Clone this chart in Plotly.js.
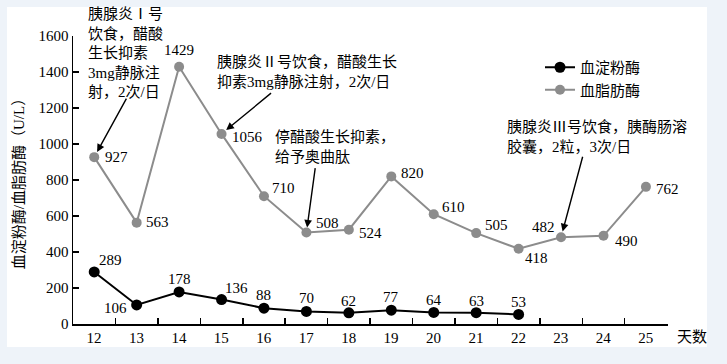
<!DOCTYPE html>
<html><head><meta charset="utf-8">
<script src="https://cdn.plot.ly/plotly-3.0.1.min.js"></script>
<style>
html,body{margin:0;padding:0;background:#eef3f9;}
#wrap{position:relative;width:727px;height:364px;}
#panel{position:absolute;left:7px;top:7px;width:700px;height:340px;background:#ffffff;}
#chart{position:absolute;left:0;top:0;width:727px;height:364px;}
</style>
</head><body>
<div id="wrap"><div id="panel"></div><div id="chart"></div></div>
<script>
const days = [12,13,14,15,16,17,18,19,20,21,22,23,24,25];
const amylaseDays = [12,13,14,15,16,17,18,19,20,21,22];
const amylase = [289,106,178,136,88,70,62,77,64,63,53];
const lipase = [927,563,1429,1056,710,508,524,820,610,505,418,482,490,762];
const seriesNames = ['血淀粉酶','血脂肪酶'];
const yTicks = [0,200,400,600,800,1000,1200,1400,1600];
const xTitle = '天数';
const yTitle = '血淀粉酶/血脂肪酶（U/L）';
const notes = [
  '胰腺炎Ⅰ号<br>饮食，醋酸<br>生长抑素<br>3mg静脉注<br>射，2次/日',
  '胰腺炎Ⅱ号饮食，醋酸生长<br>抑素3mg静脉注射，2次/日',
  '停醋酸生长抑素，<br>给予奥曲肽',
  '胰腺炎Ⅲ号饮食，胰酶肠溶<br>胶囊，2粒，3次/日'
];
const noteDay = [12,15,17,23];

// label offsets (styling)
const lipOff = [[9,0,'left'],[7,1,'left'],[0,17,'center'],[8,-3,'left'],[6,8,'left'],[8,10,'left'],[8,-3,'left'],[8,3,'left'],[6,7,'left'],[7,8,'left'],[4,-9,'left'],[-4,10,'right'],[10,-5,'left'],[8,-2,'left']];
const amyOff = [[3,12,'left'],[-8,-3,'right'],[0,13,'center'],[1,12,'left'],[0,13,'center'],[0,13,'center'],[0,12,'center'],[0,13,'center'],[0,12,'center'],[0,12,'center'],[0,12,'center']];
const notePos = [[86,4],[215,52],[273,127],[505,117]];
const arrowOff = [[33,-60,6],[51,-42,6],[9,-66,5],[22,-82,6]];

const FONT = 'Liberation Serif, "Noto Sans CJK SC", serif';
const L=73, R=59, T=36, B=40, W=727, H=364;
const pw = W-L-R, ph = H-T-B;
const px2x = p => (p-L)/pw;
const py2y = p => (H-B-p)/ph;

// ticks on day boundaries, labels shifted half a day to the day centres
const halfTicks = [];
for (let d=days[0]-0.5; d<=days[days.length-1]+0.5; d+=1) halfTicks.push(d);
const halfText = halfTicks.map((t,i)=> i<days.length ? String(days[i]) : '');
const xRange = [days[0]-0.5, days[days.length-1]+0.52];
const dayPx = pw/(xRange[1]-xRange[0]);

const traces = [
  {x: amylaseDays, y: amylase, name: seriesNames[0], mode:'lines+markers',
   line:{color:'#000', width:2}, marker:{color:'#000', size:11}},
  {x: days, y: lipase, name: seriesNames[1], mode:'lines+markers',
   line:{color:'#8c8c8c', width:2}, marker:{color:'#8c8c8c', size:10}}
];

const ann = [];
lipase.forEach((v,i)=>ann.push({x:days[i], y:v, text:String(v), showarrow:false,
  xanchor:lipOff[i][2], yanchor:'middle', xshift:lipOff[i][0], yshift:lipOff[i][1], font:{family:FONT,size:15,color:'#000'}}));
amylase.forEach((v,i)=>ann.push({x:amylaseDays[i], y:v, text:String(v), showarrow:false,
  xanchor:amyOff[i][2], yanchor:'middle', xshift:amyOff[i][0], yshift:amyOff[i][1], font:{family:FONT,size:15,color:'#000'}}));
notes.forEach((t,i)=>ann.push({xref:'paper', yref:'paper', x:px2x(notePos[i][0]), y:py2y(notePos[i][1]),
  xanchor:'left', yanchor:'top', align:'left', text:t, showarrow:false, font:{family:FONT,size:15,color:'#000'}}));
noteDay.forEach((d,i)=>{
  const idx = days.indexOf(d);
  ann.push({x:d, y:lipase[idx], text:'', showarrow:true, axref:'pixel', ayref:'pixel',
    ax:arrowOff[i][0], ay:arrowOff[i][1], standoff:arrowOff[i][2], arrowhead:2, arrowsize:1.1, arrowwidth:1.4, arrowcolor:'#000'});
});
ann.push({xref:'paper', yref:'paper', x:px2x(692), y:py2y(337), xanchor:'center', yanchor:'middle', text:xTitle, showarrow:false,
  font:{family:FONT,size:15,color:'#000'}});

const layout = {
  width:W, height:H, margin:{l:L,r:R,t:T,b:B},
  paper_bgcolor:'rgba(0,0,0,0)', plot_bgcolor:'rgba(0,0,0,0)',
  font:{family:FONT, size:15, color:'#000'},
  showlegend:true,
  legend:{x:px2x(540), y:py2y(51), xanchor:'left', yanchor:'top', bgcolor:'rgba(0,0,0,0)',
    font:{family:FONT,size:15,color:'#000'}, tracegroupgap:0},
  xaxis:{range:xRange, tickmode:'array', tickvals:halfTicks, ticktext:halfText,
    ticks:'inside', ticklen:6, tickcolor:'#000', tickwidth:1.5, ticklabelstandoff:-1, ticklabelshift:Math.round(dayPx/2),
    showline:true, linecolor:'#000', linewidth:1.5, showgrid:false, zeroline:false,
    tickfont:{family:FONT,size:15,color:'#000'}},
  yaxis:{range:[0,1600], tickmode:'array', tickvals:yTicks, ticks:'inside', ticklen:6, tickcolor:'#000', tickwidth:1.5,
    showline:true, linecolor:'#000', linewidth:1.5, showgrid:false, zeroline:false,
    tickfont:{family:FONT,size:15,color:'#000'},
    title:{text:yTitle, font:{family:FONT,size:15,color:'#000'}, standoff:10}},
  annotations: ann
};
Plotly.newPlot('chart', traces, layout, {displayModeBar:false, staticPlot:true});
</script>
</body></html>
